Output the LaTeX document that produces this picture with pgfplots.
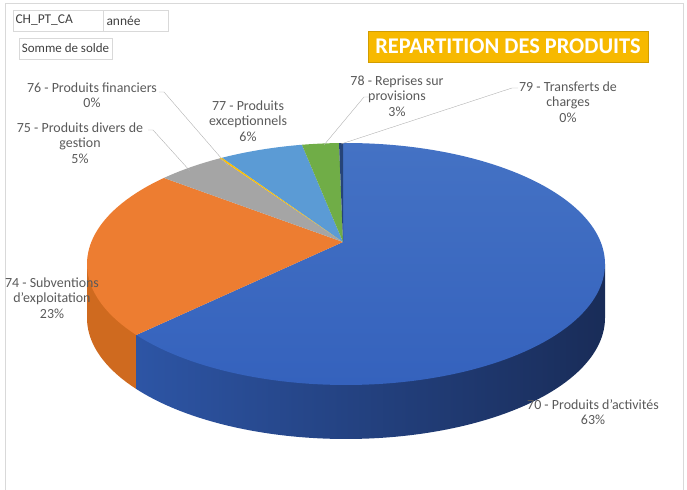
\documentclass[border=0pt]{standalone}
\usepackage{pgfplots}
\pgfplotsset{compat=1.18}
\usepackage{pgfplotstable}
\usepackage{fontspec}
\setmainfont{Carlito}
\definecolor{cBlue}{HTML}{4472C4}
\definecolor{cBlueB}{HTML}{3562BD}
\definecolor{cBlueWallL}{HTML}{2D55A5}
\definecolor{cBlueWallR}{HTML}{192C58}
\definecolor{cOrange}{HTML}{ED7D31}
\definecolor{cOrangeWall}{HTML}{CF6A1F}
\definecolor{cGray}{HTML}{A5A5A5}
\definecolor{cYellow}{HTML}{FFC000}
\definecolor{cLBlue}{HTML}{5B9BD5}
\definecolor{cGreen}{HTML}{70AD47}
\definecolor{cNavy}{HTML}{264478}
\definecolor{labelgray}{HTML}{595959}
\definecolor{boxgray}{HTML}{D9D9D9}
\definecolor{titlebg}{HTML}{F7B900}
\tikzset{lbl/.style={align=center, font=\fontsize{14}{15.5}\selectfont, text=labelgray}}

\pgfplotstableread{
code pct
70 62.8
74 22.6
75 5.0
76 0.2
77 6.3
78 2.8
79 0.3
}\pietable
\newcommand\getpct[2]{\pgfplotstablegetelem{#1}{pct}\of\pietable\edef#2{\pgfplotsretval}}

\begin{document}
\begin{tikzpicture}[declare function={
  pieK(\t)=-0.01158*cos(\t)+0.1818*sin(\t);
  pieS(\t)=-pieK(\t)+sqrt(pieK(\t)*pieK(\t)+0.9668);
  pieX(\t)=346+259*(-0.01158+pieS(\t)*cos(\t));
  pieY(\t)=264-121*(0.1818+pieS(\t)*sin(\t));
}]
\getpct{0}\pA\getpct{1}\pB\getpct{2}\pC\getpct{3}\pD\getpct{4}\pE\getpct{5}\pF\getpct{6}\pG
\pgfmathsetmacro\bA{90-3.6*\pA}%
\pgfmathsetmacro\bB{\bA-3.6*\pB}%
\pgfmathsetmacro\bC{\bB-3.6*\pC}%
\pgfmathsetmacro\bD{\bC-3.6*\pD}%
\pgfmathsetmacro\bE{\bD-3.6*\pE}%
\pgfmathsetmacro\bF{\bE-3.6*\pF}%
\pgfmathsetmacro\bG{\bF-3.6*\pG}%
\pgfmathsetmacro\qx{pieX(\bA)}%
\pgfmathsetmacro\qy{pieY(\bA)}%
\pgfmathsetmacro\tQ{atan2((264-\qy)/121,(\qx-346)/259)+360}%
\begin{axis}[
  width=687bp, height=490bp, scale only axis,
  xmin=0, xmax=687, ymin=0, ymax=490, y dir=reverse,
  hide axis, clip=true,
]
\path (rel axis cs:0,0) rectangle (rel axis cs:1,1);
% frame
\addplot[boxgray, thin, no marks] coordinates {(5,500) (5,3) (683,3) (683,500)};
% walls
\addplot[fill=cOrangeWall, draw=none, domain=180:\tQ, samples=40]
  ({346+259*cos(x)},{264-121*sin(x)+54}) -- (\qx,\qy) -- (87,264) -- cycle;
\addplot[left color=cBlueWallL, right color=cBlueWallR, draw=none, domain=\tQ:360, samples=100]
  ({346+259*cos(x)},{264-121*sin(x)+54}) -- (605,264) -- (\qx,\qy) -- cycle;
% top face
\addplot[top color=cBlue, bottom color=cBlueB, draw=none, domain=\bA:90, samples=150]
  ({pieX(x)},{pieY(x)}) -- (343,242) -- cycle;
\addplot[fill=cOrange, draw=none, domain=\bB:\bA, samples=60]
  ({pieX(x)},{pieY(x)}) -- (343,242) -- cycle;
\addplot[fill=cGray, draw=none, domain=\bC:\bB, samples=15]
  ({pieX(x)},{pieY(x)}) -- (343,242) -- cycle;
\addplot[fill=cYellow, draw=none, domain=\bD:\bC, samples=3]
  ({pieX(x)},{pieY(x)}) -- (343,242) -- cycle;
\addplot[fill=cLBlue, draw=none, domain=\bE:\bD, samples=20]
  ({pieX(x)},{pieY(x)}) -- (343,242) -- cycle;
\addplot[fill=cGreen, draw=none, domain=\bF:\bE, samples=10]
  ({pieX(x)},{pieY(x)}) -- (343,242) -- cycle;
\addplot[fill=cNavy, draw=none, domain=\bG:\bF, samples=3]
  ({pieX(x)},{pieY(x)}) -- (343,242) -- cycle;
% leader lines
\addplot[gray!60, thin, no marks] coordinates {(159,92) (164,92) (228,166)};
\addplot[gray!60, thin, no marks] coordinates {(148,130) (153,130) (190,171)};
\addplot[gray!60, thin, no marks] coordinates {(370,97) (364,97) (324,145)};
\addplot[gray!60, thin, no marks] coordinates {(518,88) (512,88) (341,144)};
% labels
\node[lbl] at (92,95) {76 - Produits financiers\\0\%};
\node[lbl] at (80,143) {75 - Produits divers de\\gestion\\5\%};
\node[lbl] at (248,121) {77 - Produits\\exceptionnels\\6\%};
\node[lbl] at (397,96) {78 - Reprises sur\\provisions\\3\%};
\node[lbl] at (568,102) {79 - Transferts de\\charges\\0\%};
\node[lbl] at (52,298) {74 - Subventions\\d'exploitation\\23\%};
\node[lbl] at (593,412) {70 - Produits d'activités\\63\%};
% field buttons
\draw[boxgray] (13,10) rectangle (103,31);
\draw[boxgray] (103,10) rectangle (168,31);
\draw[boxgray] (19,38) rectangle (112,59);
\node[anchor=west, text=black!75, font=\fontsize{13.5}{14}\selectfont] at (12,20.5) {CH\_PT\_CA};
\node[anchor=west, text=black!75, font=\fontsize{13.5}{14}\selectfont] at (103,20.5) {année};
\node[text=black!75, font=\fontsize{13}{14}\selectfont] at (65.5,48.5) {Somme de solde};
% title
\draw[fill=titlebg, draw=titlebg!85!black] (368,31) rectangle (648,62);
\node[text=white, font=\fontsize{22.5}{24}\selectfont\bfseries] at (508,46.5) {REPARTITION DES PRODUITS};
\end{axis}
\end{tikzpicture}
\end{document}
